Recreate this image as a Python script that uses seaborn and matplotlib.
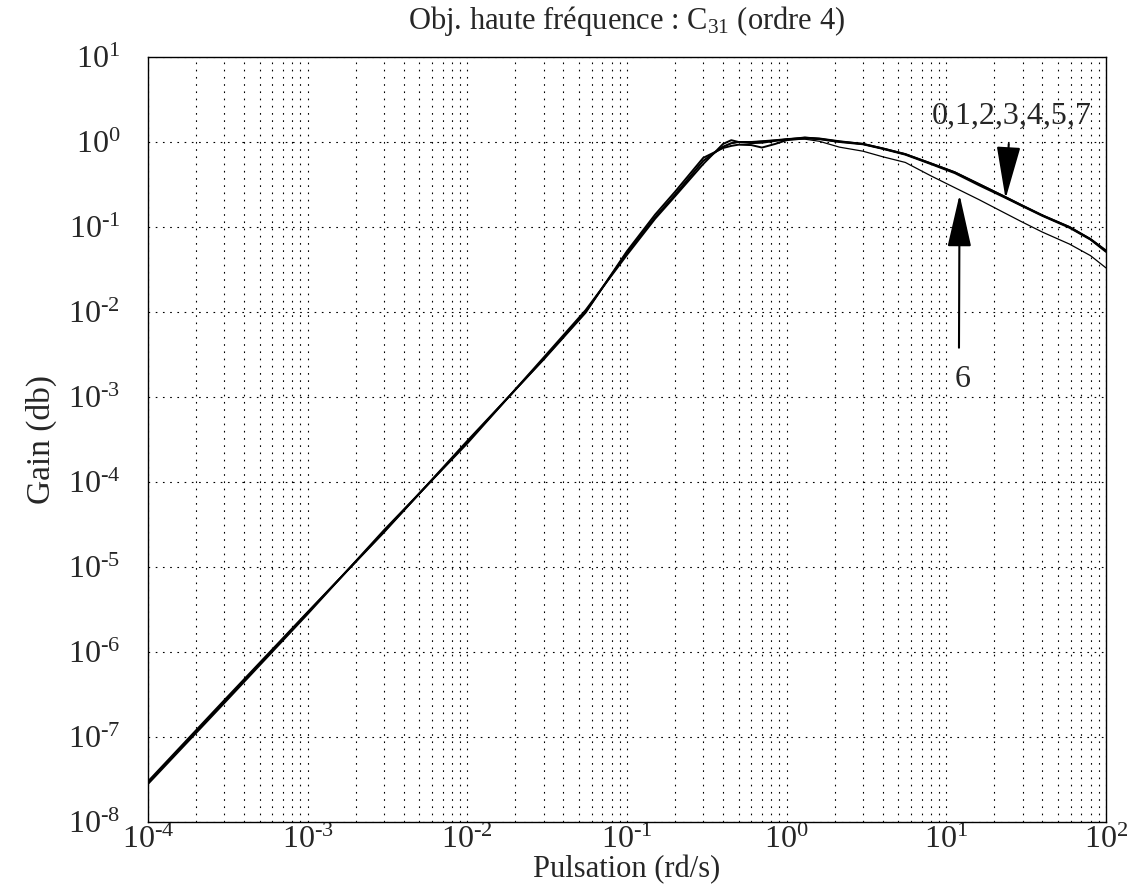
import numpy as np
import pandas as pd
import matplotlib
matplotlib.use("Agg")
import matplotlib.pyplot as plt
import matplotlib.ticker as mticker
import seaborn as sns

# pulsation points (rd/s)
omega = [1e-4, 3e-4, 1e-3, 3e-3, 1e-2, 3e-2, 5.5e-2, 0.1, 0.15, 0.2, 0.3, 0.4, 0.45,
         0.5, 0.6, 0.7, 0.85, 1.0, 1.3, 1.6, 2.14, 3, 4, 5.53, 8, 11.3, 16, 22.9,
         29.7, 40, 59, 80, 100]

# bundle of curves 0,1,2,3,4,5,7 (three slightly different traces)
gain_a = [2.9e-8, 2.6e-7, 2.9e-6, 2.6e-5, 2.95e-4, 2.8e-3, 1.0e-2, 5.0e-2, 0.13, 0.24, 0.60, 0.88, 0.97,
          1.00, 1.00, 1.02, 1.05, 1.08, 1.12, 1.10, 1.02, 0.95, 0.84, 0.72, 0.56, 0.44, 0.32, 0.23,
          0.18, 0.137, 0.10, 0.072, 0.052]
gain_b = [2.8e-8, 2.5e-7, 2.8e-6, 2.7e-5, 2.85e-4, 2.9e-3, 1.05e-2, 4.7e-2, 0.125, 0.23, 0.55, 0.95, 1.05,
          1.00, 0.97, 0.98, 1.03, 1.07, 1.13, 1.09, 1.01, 0.95, 0.84, 0.72, 0.56, 0.44, 0.32, 0.23,
          0.18, 0.137, 0.10, 0.072, 0.053]
gain_c = [3.0e-8, 2.7e-7, 2.95e-6, 2.55e-5, 3.05e-4, 2.75e-3, 0.98e-2, 5.2e-2, 0.14, 0.26, 0.65, 0.85, 0.90,
          0.93, 0.92, 0.86, 0.95, 1.05, 1.10, 1.08, 1.00, 0.94, 0.83, 0.71, 0.55, 0.43, 0.31, 0.225,
          0.177, 0.135, 0.098, 0.071, 0.051]
# curve 6
gain_6 = [2.9e-8, 2.6e-7, 2.9e-6, 2.6e-5, 2.95e-4, 2.8e-3, 1.0e-2, 5.0e-2, 0.13, 0.24, 0.60, 0.88, 0.96,
          1.00, 1.00, 1.02, 1.05, 1.08, 1.08, 1.02, 0.87, 0.78, 0.67, 0.575, 0.40, 0.29, 0.21, 0.148,
          0.115, 0.087, 0.063, 0.046, 0.033]

x_lim = [1e-4, 1e2]
y_lim = [1e-8, 1e1]

sns.set_style("white")
plt.rcParams['font.family'] = ['Liberation Serif', 'DejaVu Serif']
plt.rcParams['mathtext.fontset'] = 'custom'
plt.rcParams['mathtext.rm'] = 'Liberation Serif'
plt.rcParams['mathtext.it'] = 'Liberation Serif:italic'
plt.rcParams['mathtext.bf'] = 'Liberation Serif:bold'


def pow10(v, pos):
    e = int(round(np.log10(v)))
    if e < 0:
        return r'$\mathdefault{10^{\text{-}%d}}$' % (-e)
    return r'$\mathdefault{10^{%d}}$' % e


fig = plt.figure(figsize=(11.28, 8.85), dpi=100)
ax = fig.add_axes([0.1312, 0.0712, 0.8493, 0.8644])

for g in [gain_a, gain_b, gain_c]:
    sns.lineplot(x=omega, y=g, color='black', linewidth=1.4, ax=ax)
sns.lineplot(x=omega, y=gain_6, color='black', linewidth=0.9, ax=ax)

ax.set_xscale('log')
ax.set_yscale('log')
ax.set_xlim(x_lim)
ax.set_ylim(y_lim)

ax.xaxis.set_major_locator(mticker.LogLocator(base=10, numticks=20))
ax.xaxis.set_minor_locator(mticker.LogLocator(base=10, subs=np.arange(2, 10), numticks=100))
ax.yaxis.set_major_locator(mticker.LogLocator(base=10, numticks=20))
ax.yaxis.set_minor_locator(mticker.NullLocator())
ax.xaxis.set_minor_formatter(mticker.NullFormatter())
ax.xaxis.set_major_formatter(mticker.FuncFormatter(pow10))
ax.yaxis.set_major_formatter(mticker.FuncFormatter(pow10))

ax.grid(which='major', axis='both', color='black', linestyle=(0, (1.5, 5)), linewidth=0.8)
ax.grid(which='minor', axis='x', color='black', linestyle=(0, (1.5, 5)), linewidth=0.8)
ax.tick_params(which='both', length=0, labelsize=23)
ax.tick_params(axis='y', pad=20)
ax.tick_params(axis='x', pad=3)

for s in ax.spines.values():
    s.set_color('black')
    s.set_linewidth(1.0)

ax.set_title("Obj. haute fréquence : C$_{31}$ (ordre 4)", fontsize=22, pad=20)
ax.set_xlabel("Pulsation (rd/s)", fontsize=22, labelpad=0)
ax.set_ylabel("Gain (db)", fontsize=24, labelpad=8)

arrow = dict(arrowstyle='-|>,head_length=1.1,head_width=0.25', color='black',
             linewidth=1.5, mutation_scale=30, shrinkA=0, shrinkB=0)
ax.annotate('', xy=(23.5, 0.215), xytext=(24.6, 0.95), arrowprops=arrow)
ax.annotate('', xy=(12.1, 0.24), xytext=(12.0, 0.0038), arrowprops=arrow)
ax.text(25.8, 2.0, "0,1,2,3,4,5,7", fontsize=23, ha='center', va='center')
ax.text(12.7, 1.6e-3, "6", fontsize=23, ha='center', va='center')

plt.savefig("out.png", dpi=100)
plt.close()
